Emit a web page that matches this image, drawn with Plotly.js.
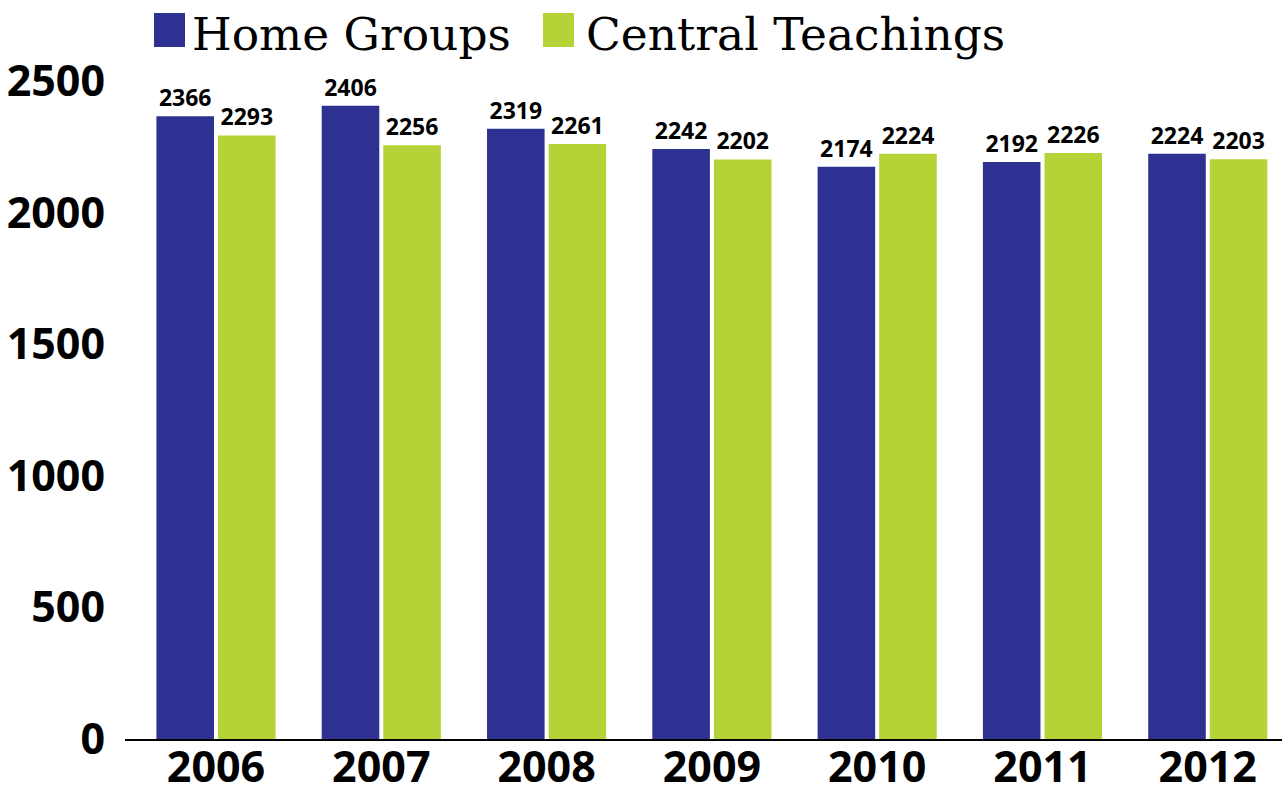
<!DOCTYPE html>
<html>
<head>
<meta charset="utf-8">
<script src="https://cdn.plot.ly/plotly-3.0.1.min.js"></script>
<style>html,body{margin:0;padding:0;background:#fff;}#chart{width:1282px;height:794px;}</style>
</head>
<body>
<div id="chart"></div>
<script>
const years = ['2006', '2007', '2008', '2009', '2010', '2011', '2012'];
const seriesNames = ['Home Groups', 'Central Teachings'];
const homeGroups = [2366, 2406, 2319, 2242, 2174, 2192, 2224];
const centralTeachings = [2293, 2256, 2261, 2202, 2224, 2226, 2203];
const yTicks = [0, 500, 1000, 1500, 2000, 2500];
const colors = ['#2E3192', '#B5D336'];

const W = 1282, H = 794;
const mL = 125, mR = 0, mT = 70, mB = 55;
const pw = W - mL - mR, ph = H - mT - mB;
const px2x = X => (X - mL) / pw;
const px2y = Y => (H - mB - Y) / ph;

const labelFont = {family: 'Open Sans, sans-serif', size: 23, color: '#000', weight: 700};
function bar(name, vals, color) {
  return {
    type: 'bar', name: name, x: years, y: vals,
    marker: {color: color},
    text: vals.map(String), textposition: 'outside',
    textfont: labelFont, cliponaxis: false,
    hoverinfo: 'x+y'
  };
}
const data = [bar(seriesNames[0], homeGroups, colors[0]), bar(seriesNames[1], centralTeachings, colors[1])];

const shapes = [], annotations = [];
const legendPos = [{sq: [154, 185], tx: 190}, {sq: [543, 574], tx: 584}];
seriesNames.forEach((n, i) => {
  shapes.push({type: 'rect', xref: 'paper', yref: 'paper',
    x0: px2x(legendPos[i].sq[0]), x1: px2x(legendPos[i].sq[1]),
    y0: px2y(47), y1: px2y(13), fillcolor: colors[i], line: {width: 0}});
  annotations.push({xref: 'paper', yref: 'paper', x: px2x(legendPos[i].tx), y: px2y(34),
    xanchor: 'left', yanchor: 'middle', showarrow: false, text: n,
    font: {family: 'DejaVu Serif, serif', size: 45.5, color: '#000'}});
});

const layout = {
  width: W, height: H,
  margin: {l: mL, r: mR, t: mT, b: mB, pad: 0},
  paper_bgcolor: '#fff', plot_bgcolor: '#fff',
  showlegend: false,
  barmode: 'group', bargap: 0.255, bargroupgap: 0.065,
  font: {family: 'Open Sans, sans-serif', color: '#000'},
  xaxis: {
    type: 'category', range: [-0.5505, 6.449],
    showline: true, linecolor: '#000', linewidth: 2,
    showgrid: false, ticks: '', ticklabelstandoff: -11,
    tickfont: {family: 'Open Sans, sans-serif', size: 43, color: '#000', weight: 700}
  },
  yaxis: {
    range: [0, ph / (658 / 2500)],
    tickvals: yTicks, ticktext: yTicks.map(String),
    showgrid: false, zeroline: false, showline: false, ticks: '',
    ticklabelstandoff: 19,
    tickfont: {family: 'Open Sans, sans-serif', size: 43, color: '#000', weight: 700}
  },
  shapes: shapes, annotations: annotations
};
Plotly.newPlot('chart', data, layout, {displayModeBar: false, staticPlot: true});
</script>
</body>
</html>
